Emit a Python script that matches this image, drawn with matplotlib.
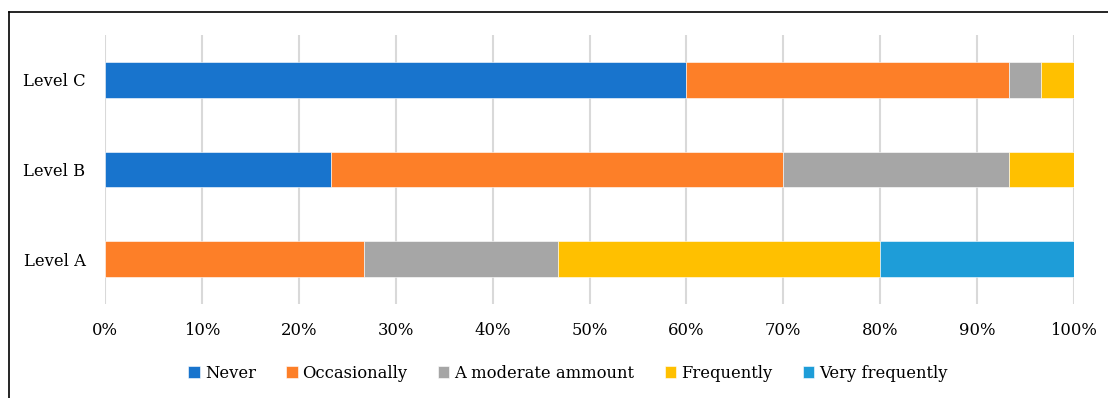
import matplotlib.pyplot as plt
import numpy as np
from matplotlib.lines import Line2D

# Response shares (%) per level
levels = ['Level A', 'Level B', 'Level C']
answers = ['Never', 'Occasionally', 'A moderate ammount', 'Frequently', 'Very frequently']
never = [0.0, 23.3, 60.0]
occasionally = [26.7, 46.7, 33.3]
moderate = [20.0, 23.3, 3.3]
frequently = [33.3, 6.7, 3.4]
very_frequently = [20.0, 0.0, 0.0]
xticks = [0, 10, 20, 30, 40, 50, 60, 70, 80, 90, 100]

colors = ['#1874CD', '#FD7F28', '#A6A6A6', '#FFC000', '#1E9DD8']

plt.rcParams['font.family'] = ['DejaVu Serif']

fig = plt.figure(figsize=(11.08, 3.98), dpi=100)
W, H = 1108, 398
ax = fig.add_axes([105 / W, 1 - 304 / H, (1074 - 105) / W, (304 - 35) / H])

series = [never, occasionally, moderate, frequently, very_frequently]
y = np.arange(len(levels))
left = np.zeros(len(levels))
for name, vals, col in zip(answers, series, colors):
    vals = np.array(vals)
    ax.barh(y, vals, left=left, height=0.4, color=col, label=name,
            edgecolor='white', linewidth=0.4, zorder=3)
    left += vals

ax.set_xlim(0, 100)
ax.set_ylim(-0.5, 2.5)
ax.set_yticks(y)
ax.set_yticklabels(levels, fontsize=11.8)
ax.set_xticks(xticks)
ax.set_xticklabels([f'{t}%' for t in xticks], fontsize=11.8)
ax.tick_params(axis='both', length=0)
ax.tick_params(axis='x', pad=13)
ax.tick_params(axis='y', pad=14)
ax.grid(axis='x', color='#D9D9D9', linewidth=1.5, zorder=0)
for s in ax.spines.values():
    s.set_visible(False)

fig.legend(loc='center', bbox_to_anchor=(568 / W, 1 - 373 / H), ncol=5,
           frameon=False, fontsize=11.8, handlelength=0.7, handleheight=0.7,
           handletextpad=0.3, columnspacing=1.85)

# frame of the cropped figure box
fig.add_artist(Line2D([8.5 / W, 8.5 / W], [0, 1 - 12 / H], color='black', linewidth=1.2, transform=fig.transFigure))
fig.add_artist(Line2D([8.5 / W, 1], [1 - 12 / H, 1 - 12 / H], color='black', linewidth=1.2, transform=fig.transFigure))

fig.savefig('out.png', dpi=100)
